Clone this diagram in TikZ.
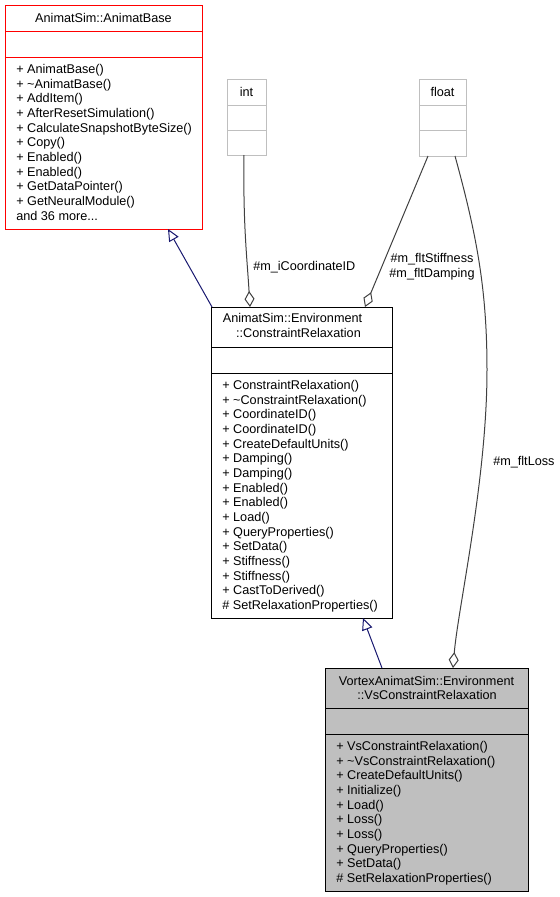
\documentclass[tikz,border=0pt]{standalone}
\usepackage{fontspec}
\setmainfont{Liberation Sans}
\usetikzlibrary{arrows.meta,fit,calc}

\definecolor{basered}{HTML}{FF0000}
\definecolor{typegray}{HTML}{BFBFBF}
\definecolor{classfill}{HTML}{BFBFBF}
\definecolor{edgenavy}{HTML}{191970}
\definecolor{edgegray}{HTML}{404040}

\tikzset{
  classbox/.style={draw, line width=0.75pt, inner sep=0pt, outer sep=0pt},
  umltext/.style={font=\fontsize{9.5}{11}\selectfont, inner sep=0pt},
  ops/.style={umltext, align=left, anchor=north west},
  inherit/.style={draw=edgenavy, line width=0.75pt, -{Triangle[open,length=9pt,width=8pt]}},
  aggr/.style={draw=edgegray, line width=0.75pt, -{Diamond[open,length=12pt,width=7.5pt]}},
}

\begin{document}
\begin{tikzpicture}[x=0.75pt,y=0.75pt,yscale=-1,xscale=1]
    \path[use as bounding box] (0,0) rectangle (560,897);

    %Class: AnimatBase
    \node[classbox, draw=basered, fit={(5,5) (202,229)}] (base) {};
    \draw[basered, line width=0.75pt] (base.west |- 0,31) -- (base.east |- 0,31)
        (base.west |- 0,57) -- (base.east |- 0,57);
    \node[umltext] (basename) at (103.5,18) {AnimatSim::AnimatBase};
    \node[ops] (baseops) at (16,64) {+ AnimatBase()\\+ \textasciitilde AnimatBase()\\+ AddItem()\\+ AfterResetSimulation()\\+ CalculateSnapshotByteSize()\\+ Copy()\\+ Enabled()\\+ Enabled()\\+ GetDataPointer()\\+ GetNeuralModule()\\and 36 more...};

    %Type: int
    \node[classbox, draw=typegray, fit={(227,79) (266,155)}] (int) {};
    \draw[typegray, line width=0.75pt] (int.west |- 0,105) -- (int.east |- 0,105)
        (int.west |- 0,130) -- (int.east |- 0,130);
    \node[umltext] (intname) at (246.5,92) {int};

    %Type: float
    \node[classbox, draw=typegray, fit={(419,79) (466,156)}] (float) {};
    \draw[typegray, line width=0.75pt] (float.west |- 0,105) -- (float.east |- 0,105)
        (float.west |- 0,130) -- (float.east |- 0,130);
    \node[umltext] (floatname) at (442.5,92) {float};

    %Class: ConstraintRelaxation
    \node[classbox, fill=white, fit={(211,307) (392,618)}] (cr) {};
    \draw[line width=0.75pt] (cr.west |- 0,347) -- (cr.east |- 0,347)
        (cr.west |- 0,373) -- (cr.east |- 0,373);
    \node[umltext] (crname) at (292.5,318) {AnimatSim::Environment};
    \node[umltext] (crname2) at (298.5,333) {::ConstraintRelaxation};
    \node[ops] (crops) at (222,380) {+ ConstraintRelaxation()\\+ \textasciitilde ConstraintRelaxation()\\+ CoordinateID()\\+ CoordinateID()\\+ CreateDefaultUnits()\\+ Damping()\\+ Damping()\\+ Enabled()\\+ Enabled()\\+ Load()\\+ QueryProperties()\\+ SetData()\\+ Stiffness()\\+ Stiffness()\\+ CastToDerived()\\\# SetRelaxationProperties()};

    %Class: VsConstraintRelaxation
    \node[classbox, fill=classfill, fit={(325,668) (528,891)}] (vs) {};
    \draw[line width=0.75pt] (vs.west |- 0,708) -- (vs.east |- 0,708)
        (vs.west |- 0,734) -- (vs.east |- 0,734);
    \node[umltext] (vsname) at (426.5,681) {VortexAnimatSim::Environment};
    \node[umltext] (vsname2) at (427,695) {::VsConstraintRelaxation};
    \node[ops] (vsops) at (336,741) {+ VsConstraintRelaxation()\\+ \textasciitilde VsConstraintRelaxation()\\+ CreateDefaultUnits()\\+ Initialize()\\+ Load()\\+ Loss()\\+ Loss()\\+ QueryProperties()\\+ SetData()\\\# SetRelaxationProperties()};

    %Inheritance
    \draw[inherit] ($(cr.north west)+(1,0)$) -- ($(base.south west)+(163,0)$);
    \draw[inherit] ($(vs.north west)+(57,0)$) -- ($(cr.south west)+(152,0)$);

    %Aggregation
    \draw[aggr] ($(int.south)+(-2.5,0)$) .. controls +(-1,70) and +(-3,-50) .. ($(cr.north west)+(39,0)$);
    \draw[aggr] ($(float.south)+(-14.5,0)$) -- ($(cr.north east)+(-27,0)$);
    \draw[aggr] ($(float.south)+(12.5,0)$) .. controls +(22,80) and +(0,-80) .. (487,370)
        .. controls +(0,110) and +(5,-60) .. ($(vs.north west)+(128,0)$);

    % Text Node
    \node[umltext, anchor=west] (iidlabel) at (253,267) {\#m\_iCoordinateID};
    % Text Node
    \node[umltext, align=center] (stifflabel) at (432,267) {\#m\_fltStiffness\\\#m\_fltDamping};
    % Text Node
    \node[umltext, anchor=west] (losslabel) at (493,462) {\#m\_fltLoss};

\end{tikzpicture}
\end{document}
